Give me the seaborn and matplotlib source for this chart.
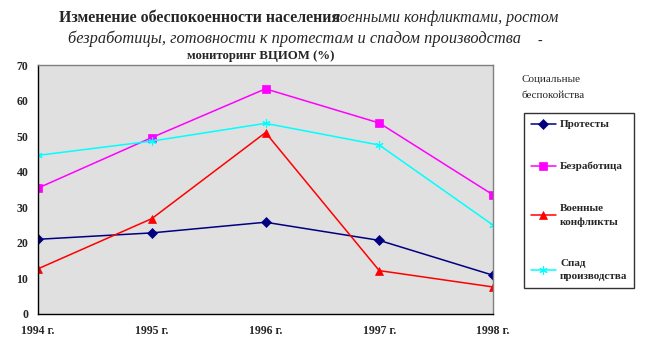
import pandas as pd
import numpy as np
import matplotlib.pyplot as plt
import seaborn as sns

# Данные (мониторинг ВЦИОМ, %)
years = ['1994 г.', '1995 г.', '1996 г.', '1997 г.', '1998 г.']
protesty = [21.0, 22.8, 25.8, 20.7, 10.9]
bezrabotica = [35.4, 49.6, 63.3, 53.7, 33.5]
voennye = [12.7, 26.8, 51.0, 12.2, 7.6]
spad = [44.6, 48.6, 53.6, 47.5, 25.0]
series_names = ['Протесты', 'Безработица', 'Военные\nконфликты', 'Спад\nпроизводства']

series = [protesty, bezrabotica, voennye, spad]
rows = []
for name, vals in zip(series_names, series):
	for i, v in enumerate(vals):
		rows.append({'x': i, 'val': v, 'serie': name})
df = pd.DataFrame(rows)

sns.set_style('white')
plt.rcParams['font.family'] = ['Liberation Serif', 'DejaVu Serif']

W, H = 645, 364
fig = plt.figure(figsize=(W / 100, H / 100), dpi=100)
# área del gráfico en píxeles: x 38..493, y 65..314
ax = fig.add_axes([38 / W, 1 - 314 / H, (493 - 38) / W, (314 - 65) / H])
ax.set_facecolor('#e0e0e0')

colores = ['#000080', '#ff00ff', '#ff0000', '#00ffff']
marcadores = ['D', 's', '^', (6, 2, 0)]
tamanos = [5, 6, 6, 6]
for name, c, m, s in zip(series_names, colores, marcadores, tamanos):
	d = df[df['serie'] == name]
	sns.lineplot(data=d, x='x', y='val', ax=ax, color=c, marker=m, markersize=s,
		markeredgecolor=c, markerfacecolor=c, linewidth=1.1, label=name,
		markeredgewidth=0.8 if m == (6, 2, 0) else 0.5)

ax.set_xlim(0, 4)
ax.set_ylim(0, 70)
ax.set_xticks(range(len(years)))
ax.set_xticklabels(years, fontweight='bold', fontsize=8.5)
ax.set_yticks(range(0, 71, 10))
ax.set_yticklabels([str(v) for v in range(0, 71, 10)], fontweight='bold', fontsize=8.5)
ax.tick_params(axis='both', direction='out', length=4, width=1, color='black', pad=3)
ax.tick_params(axis='x', pad=4)
ax.set_xlabel('')
ax.set_ylabel('')
for lado in ['top', 'right']:
	ax.spines[lado].set_color('#808080')
	ax.spines[lado].set_linewidth(1)
for lado in ['left', 'bottom']:
	ax.spines[lado].set_color('black')
	ax.spines[lado].set_linewidth(1)

# Leyenda
leg = ax.legend(loc='upper left', bbox_to_anchor=(524 / W, 1 - 113 / H),
	bbox_transform=fig.transFigure, frameon=True, fancybox=False,
	prop={'weight': 'bold', 'size': 8}, labelspacing=2.9, handlelength=2.3,
	borderpad=0.6, handletextpad=0.35, borderaxespad=0)
leg.get_frame().set_edgecolor('black')
leg.get_frame().set_linewidth(1)
for t in leg.get_texts():
	t.set_linespacing(1.6)
fig.text(522 / W, 1 - 80 / H, 'Социальные', fontsize=8, va='center')
fig.text(522 / W, 1 - 96 / H, 'беспокойства', fontsize=8, va='center')

# Títulos
fig.text(333 / W, 1 - 18 / H, 'военными конфликтами, ростом', fontsize=11.5,
	style='italic', va='center', ha='left', zorder=1)
fig.text(340 / W, 1 - 18 / H, 'Изменение обеспокоенности населения', fontsize=11.4,
	fontweight='bold', va='center', ha='right', zorder=2)
fig.text(294 / W, 1 - 39 / H, 'безработицы, готовности к протестам и спадом производства',
	fontsize=11.8, style='italic', va='center', ha='center')
fig.text(540 / W, 1 - 41 / H, '-', fontsize=10, va='center', ha='center')
fig.text(261 / W, 1 - 56 / H, 'мониторинг ВЦИОМ (%)', fontsize=9.2,
	fontweight='bold', va='center', ha='center')

plt.savefig('out.png', dpi=100)
